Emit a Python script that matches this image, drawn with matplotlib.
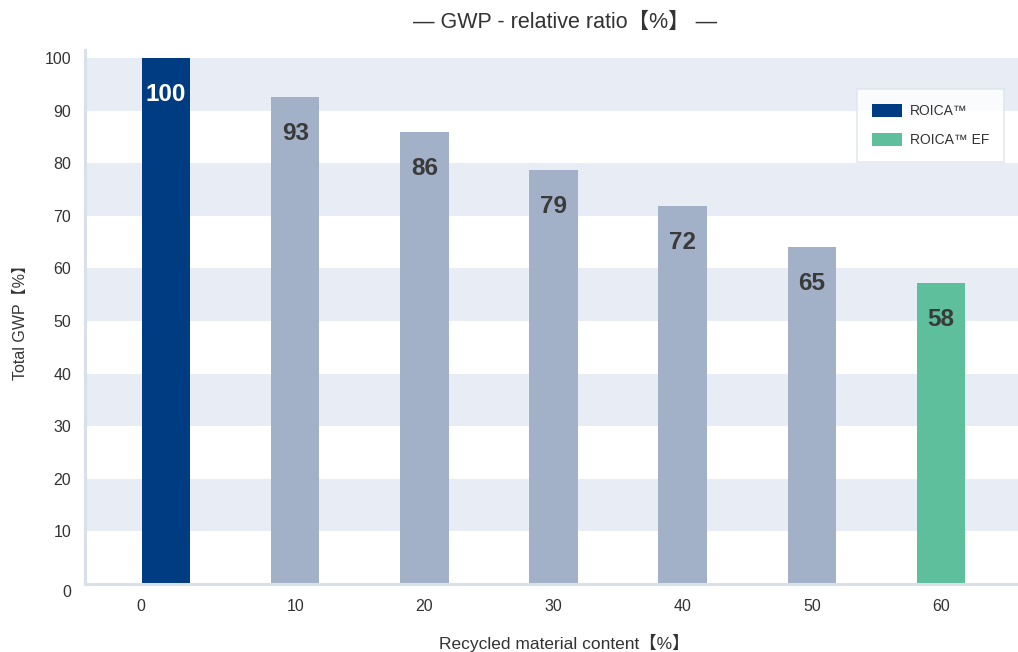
import matplotlib
matplotlib.use("Agg")
import matplotlib.pyplot as plt
from matplotlib.patches import Patch
from matplotlib.transforms import offset_copy

plt.rcParams['font.family'] = ['Liberation Sans', 'Noto Sans CJK JP', 'DejaVu Sans']

# ---- data ----
recycled = [0, 10, 20, 30, 40, 50, 60]
gwp_values = [100, 92.6, 85.9, 78.7, 71.9, 64.1, 57.2]
value_labels = ["100", "93", "86", "79", "72", "65", "58"]
bar_kinds = ["ROICA", "mid", "mid", "mid", "mid", "mid", "EF"]
y_ticks = [0, 10, 20, 30, 40, 50, 60, 70, 80, 90, 100]
band_ranges = [(10, 20), (30, 40), (50, 60), (70, 80), (90, 100)]
legend_labels = ["ROICA™", "ROICA™ EF"]
title_text = "— GWP - relative ratio【%】 —"
xlabel_text = "Recycled material content【%】"
ylabel_text = "Total GWP【%】"

# ---- styles ----
colors = {"ROICA": "#003c82", "mid": "#a3b1c8", "EF": "#5ebf9d"}
label_colors = {"ROICA": "white", "mid": "#3a3a3a", "EF": "#3a3a3a"}
band_color = "#e8ecf5"
spine_color = "#d8e0ea"
text_color = "#333333"

W, H = 1018, 652
fig = plt.figure(figsize=(W / 100, H / 100), dpi=100)
ax = fig.add_axes([85 / W, (H - 584) / H, (1018 - 85) / W, (584 - 50) / H])

for lo, hi in band_ranges:
    ax.axhspan(lo, hi, color=band_color, lw=0, zorder=0)

bars = ax.bar(recycled, gwp_values, width=3.75,
              color=[colors[k] for k in bar_kinds], zorder=2)

for b, lab, k in zip(bars, value_labels, bar_kinds):
    ax.annotate(lab, (b.get_x() + b.get_width() / 2, b.get_height()),
                xytext=(0, -26.5), textcoords="offset points",
                ha="center", va="center", fontsize=17.5, fontweight="bold",
                color=label_colors[k], zorder=3)

ax.set_xlim(-6.27, 65.96)
ax.set_ylim(0, 101.5)
ax.set_xticks(recycled)
ax.set_xticklabels([str(v) for v in recycled])
ax.set_yticks(y_ticks)
ax.set_yticklabels([str(v) for v in y_ticks])
ax.tick_params(axis="both", length=0, labelsize=11.5, labelcolor=text_color)
ax.tick_params(axis="x", pad=11)
ax.tick_params(axis="y", pad=10)

# shift first labels like the reference
xl0 = ax.get_xticklabels()[0]
xl0.set_transform(offset_copy(xl0.get_transform(), fig=fig, x=-25, y=0, units="dots"))
yl0 = ax.get_yticklabels()[0]
yl0.set_transform(offset_copy(yl0.get_transform(), fig=fig, x=0, y=-7, units="dots"))

for s in ["top", "right"]:
    ax.spines[s].set_visible(False)
for s in ["left", "bottom"]:
    ax.spines[s].set_color(spine_color)
    ax.spines[s].set_linewidth(2.2)
    ax.spines[s].set_zorder(4)

handles = [Patch(facecolor=colors["ROICA"], edgecolor="none"),
           Patch(facecolor=colors["EF"], edgecolor="none")]
leg = fig.legend(handles, legend_labels, loc="upper left",
                 bbox_to_anchor=(857 / W, 1 - 89 / H),
                 fontsize=10, frameon=True, fancybox=False,
                 handlelength=2.2, handleheight=1.1, handletextpad=0.55,
                 labelspacing=1.05, borderpad=1.05, borderaxespad=0)
leg.get_frame().set_edgecolor("#dde3ea")
leg.get_frame().set_linewidth(1.2)
for t in leg.get_texts():
    t.set_color(text_color)

fig.text(565 / W, 1 - 22 / H, title_text, ha="center", va="center",
         fontsize=15.5, color=text_color)
fig.text(564 / W, 1 - 643 / H, xlabel_text, ha="center", va="center",
         fontsize=12.5, color=text_color)
fig.text(20 / W, 1 - 318 / H, ylabel_text, ha="center", va="center",
         rotation=90, fontsize=11.5, color=text_color)

fig.savefig("out.png", dpi=100)
